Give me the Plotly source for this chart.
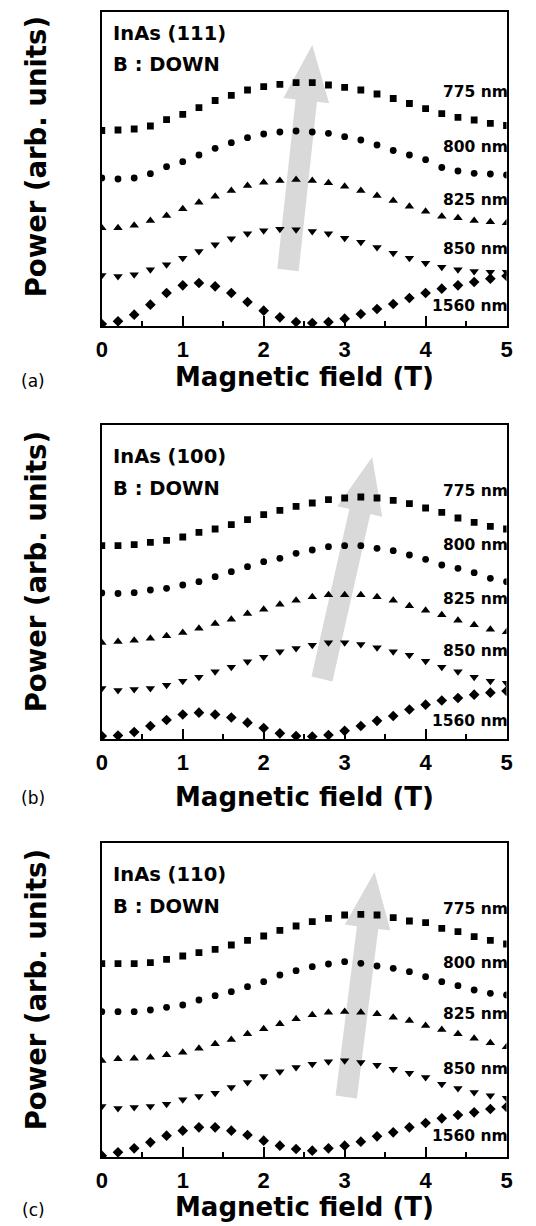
import plotly.graph_objects as go

W, H = 536, 1226

# ---------------- data (arb. units) ----------------
field_T = [0.0, 0.2, 0.4, 0.6, 0.8, 1.0, 1.2, 1.4, 1.6, 1.8, 2.0, 2.2, 2.4,
           2.6, 2.8, 3.0, 3.2, 3.4, 3.6, 3.8, 4.0, 4.2, 4.4, 4.6, 4.8, 5.0]
wavelength_labels = ["775 nm", "800 nm", "825 nm", "850 nm", "1560 nm"]

a_775 = [195.5, 196, 197, 200, 206.3, 211.7, 218.3, 225.5, 230.7, 236, 239.3, 241.7, 243.3,
         243.3, 241, 238.7, 236, 232, 227.5, 222.5, 217.3, 212.3, 208.7, 206, 202.7, 200.5]
a_800 = [148, 147, 148, 152.3, 159.3, 164.3, 171, 177.7, 183.3, 188.3, 192, 194, 195,
         194, 192.7, 189.3, 186, 181, 175.5, 171, 166.3, 158.5, 155, 152.7, 152, 151]
a_825 = [98, 98, 100.7, 105.3, 110.3, 117, 123.7, 129.7, 135.3, 140.3, 143.7, 145.3, 146.3,
         145.3, 143, 139.7, 135.3, 130.3, 125.3, 119.7, 114.7, 109.7, 108, 105.3, 104, 103]
a_850 = [50.7, 49.7, 51.3, 56.3, 61.3, 68, 74.7, 81.3, 87.3, 92.3, 95.3, 97, 96.3,
         94.7, 92.3, 88, 84, 78.7, 73, 68, 63, 59, 56.3, 54.7, 54, 54]
a_1560 = [2, 4.7, 11.3, 21.3, 33, 40.7, 43, 39.7, 33, 24, 15.3, 8.7, 4,
          3, 4, 7.3, 12, 17, 22, 28, 33, 37.3, 40.7, 44, 47.3, 50]

b_775 = [193.3, 193.3, 194.3, 196.7, 198.7, 202, 206.7, 210, 214.3, 219.3, 224.3, 228.7, 232.7,
         236, 239.3, 241, 242, 241, 238.7, 235.3, 231, 226.7, 221, 216.7, 212.7, 210]
b_800 = [146, 145.5, 146.3, 149, 150.7, 154, 157.3, 162.3, 167.3, 172.3, 177.3, 180.7, 185.7,
         189, 192.3, 193.3, 193.3, 190.7, 188.3, 184, 179.7, 174, 170.7, 166.3, 160.7, 157.3]
b_825 = [96.3, 97.3, 98.7, 100.7, 103, 106.3, 110.7, 115.3, 119.7, 125.3, 129.7, 134.7, 138.7,
         142, 144, 144, 144, 142, 138.7, 133, 128.7, 124, 118.7, 114, 109.7, 107]
b_850 = [50.7, 48.7, 49.7, 50.7, 54, 58, 62, 67.3, 72, 77.3, 82, 87.3, 90.7,
         94, 96.3, 96.3, 94.7, 91.3, 87.3, 84, 78, 72, 67.3, 62, 58, 56]
b_1560 = [3, 3.5, 7, 13, 19, 24.5, 26.3, 24.5, 21.5, 16.3, 11, 5.7, 3,
          2.5, 4, 8.2, 13, 18.2, 23, 29.5, 34.3, 38.5, 41, 44.3, 46.3, 48]

c_775 = [193.3, 193.3, 193.3, 194.3, 197.7, 201, 204.3, 207.7, 212, 216.7, 221, 226.7, 231,
         235.3, 238.7, 242, 242.7, 242, 239.3, 236, 234.3, 228.7, 225.3, 220.3, 216.7, 213]
c_800 = [145.3, 145.3, 145.3, 147, 149.7, 152, 157, 161.3, 165.3, 170.3, 175.3, 182, 186.3,
         190.3, 193, 195.3, 193.7, 191, 188.7, 185.3, 180.3, 175.3, 171.3, 167, 163.7, 162]
c_825 = [96.3, 98, 98.7, 99.7, 102, 104.7, 108.7, 113, 117.3, 123, 128, 133, 138,
         142, 144.7, 145.3, 144.7, 143, 139.7, 136.3, 131.3, 127.3, 123, 118.7, 114, 110]
c_850 = [50.7, 48.7, 49.7, 50.7, 53, 57.3, 60.7, 64, 69.7, 74.7, 80.7, 85.3, 89.7,
         93, 95.3, 96.3, 94.7, 92, 88, 84, 79.7, 73, 68.7, 64.7, 61.3, 59]
c_1560 = [1.3, 4.7, 8.7, 14.7, 21.3, 26.3, 29.7, 29.7, 26.3, 22, 16.3, 11.3, 8,
          6.3, 8.7, 11.3, 15.3, 20.7, 24.7, 29.7, 34, 38.7, 42, 44.7, 48, 50]

sample_names = ["InAs (111)", "InAs (100)", "InAs (110)"]
panel_tags = ["(a)", "(b)", "(c)"]
panel_series = [[a_775, a_800, a_825, a_850, a_1560],
                [b_775, b_800, b_825, b_850, b_1560],
                [c_775, c_800, c_825, c_850, c_1560]]
# label heights of wavelength labels (arb. units)
label_levels = [[234, 179, 126, 77, 20],
                [247.7, 194.3, 139.7, 88, 18],
                [247.7, 194.3, 143, 88, 21.3]]
# grey arrow: (tail field, tail power, tip field, tip power)
arrows = [(2.30, 56, 2.60, 281), (2.72, 60, 3.34, 282), (3.02, 60, 3.37, 285)]

# ---------------- style / layout ----------------
symbols = ["square", "circle", "triangle-up", "triangle-down", "diamond"]
sizes = [6.8, 6.8, 8.3, 8.3, 8.2]
XMAX, YMAX = 5.0, 314.0
PLOT_L, PLOT_R = 98, 512
panel_tops = [12, 425, 843]       # pixel
PLOT_H = 314
title_y = [377, 797, 1207]
tag_y = [381, 798, 1210]
ytitle_y = [157, 572, 990]
head_y = [(33.5, 65), (456.5, 488), (874.5, 906)]
LABEL_RIGHT = 516  # pixel anchor of the wavelength labels

BOLD = "DejaVu Sans"
TICKF = "Liberation Sans"


def px(x):
    return x / W


def py(y):
    return 1 - y / H


fig = go.Figure()
annotations = []
shapes = []
kx = (PLOT_R - PLOT_L) / XMAX  # px per tesla
ky = PLOT_H / YMAX

for i in range(3):
    ax = "" if i == 0 else str(i + 1)
    for s, ys in enumerate(panel_series[i]):
        fig.add_trace(go.Scatter(
            x=field_T, y=ys, mode="markers", xaxis="x" + ax, yaxis="y" + ax,
            marker=dict(symbol=symbols[s], size=sizes[s], color="black", line=dict(width=0)),
            showlegend=False, hoverinfo="skip"))
    top = panel_tops[i]
    bot = top + PLOT_H
    fig.update_layout(**{
        "xaxis" + ax: dict(domain=[px(PLOT_L), px(PLOT_R)], anchor="y" + ax, range=[0, XMAX],
                           showline=True, linewidth=2, linecolor="black", mirror=True,
                           showgrid=False, zeroline=False, ticks="inside", ticklen=10, tickwidth=2,
                           tickcolor="black", tickvals=[0, 1, 2, 3, 4, 5],
                           ticktext=["0", "1", "2", "3", "4", "5"],
                           tickfont=dict(family=TICKF, size=22, color="black", weight="bold"),
                           ticklabelstandoff=3,
                           minor=dict(dtick=0.5, ticks="inside", ticklen=5, tickwidth=2, tickcolor="black")),
        "yaxis" + ax: dict(domain=[py(bot), py(top)], anchor="x" + ax, range=[0, YMAX],
                           showline=True, linewidth=2, linecolor="black", mirror=True,
                           showgrid=False, zeroline=False, showticklabels=False, ticks=""),
    })
    # grey arrow polygon, built in pixel space then mapped back to data units
    x0, y0, x1, y1 = arrows[i]
    X0, Y0, X1, Y1 = x0 * kx, y0 * ky, x1 * kx, y1 * ky
    dx, dy = X1 - X0, Y1 - Y0
    L = (dx * dx + dy * dy) ** 0.5
    ux, uy = dx / L, dy / L
    nx, ny = -uy, ux
    sw, hw, hl = 11, 23.5, 56
    bx, by = X1 - ux * hl, Y1 - uy * hl
    pts = [(X0 + nx * sw, Y0 + ny * sw), (bx + nx * sw, by + ny * sw), (bx + nx * hw, by + ny * hw),
           (X1, Y1), (bx - nx * hw, by - ny * hw), (bx - nx * sw, by - ny * sw), (X0 - nx * sw, Y0 - ny * sw)]
    path = "M " + " L ".join(f"{p[0] / kx:.4f},{p[1] / ky:.3f}" for p in pts) + " Z"
    shapes.append(dict(type="path", path=path, xref="x" + ax, yref="y" + ax, layer="below",
                       fillcolor="#d9d9d9", line=dict(width=0)))
    # wavelength labels (paper x so they are never hidden, data y)
    for s, lab in enumerate(wavelength_labels):
        annotations.append(dict(text=lab, x=px(LABEL_RIGHT), y=label_levels[i][s], xref="paper", yref="y" + ax,
                                xanchor="right", yanchor="middle", showarrow=False,
                                font=dict(family=BOLD, size=15.5, color="black", weight="bold")))
    # sample text
    annotations.append(dict(text=sample_names[i], x=px(107), y=py(head_y[i][0]), xref="paper", yref="paper",
                            xanchor="left", yanchor="middle", showarrow=False,
                            font=dict(family=BOLD, size=19.5, color="black", weight="bold")))
    annotations.append(dict(text="B : DOWN", x=px(107), y=py(head_y[i][1]), xref="paper", yref="paper",
                            xanchor="left", yanchor="middle", showarrow=False,
                            font=dict(family=BOLD, size=19.5, color="black", weight="bold")))
    # axis titles
    annotations.append(dict(text="Magnetic field (T)", x=px((PLOT_L + PLOT_R) / 2), y=py(title_y[i]),
                            xref="paper", yref="paper", xanchor="center", yanchor="middle", showarrow=False,
                            font=dict(family=BOLD, size=26, color="black", weight="bold")))
    annotations.append(dict(text="Power (arb. units)", x=px(31), y=py(ytitle_y[i]), textangle=-90,
                            xref="paper", yref="paper", xanchor="center", yanchor="middle", showarrow=False,
                            font=dict(family=BOLD, size=27.5, color="black", weight="bold")))
    annotations.append(dict(text=panel_tags[i], x=px(28), y=py(tag_y[i]), xref="paper", yref="paper",
                            xanchor="center", yanchor="middle", showarrow=False,
                            font=dict(family="DejaVu Sans", size=17, color="black")))

fig.update_layout(width=W, height=H, margin=dict(l=0, r=0, t=0, b=0),
                  paper_bgcolor="white", plot_bgcolor="white",
                  annotations=annotations, shapes=shapes, showlegend=False)

fig.write_html("out.html", config={"displayModeBar": False},
               post_script="document.body.style.margin='0';document.body.style.padding='0';")
